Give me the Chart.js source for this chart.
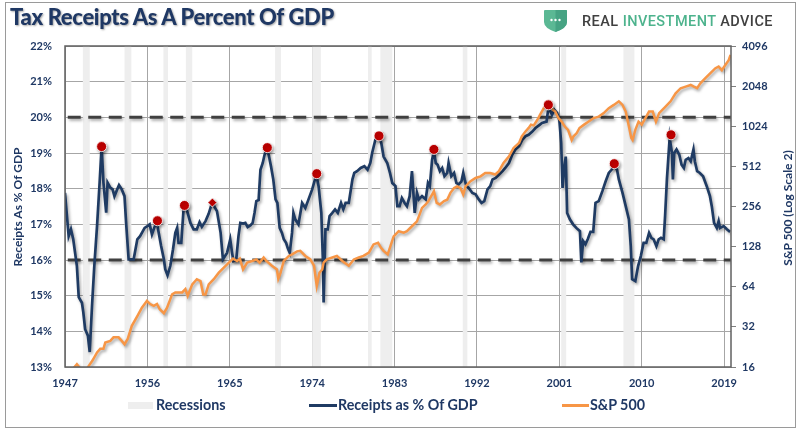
<!DOCTYPE html>
<html>
<head>
<meta charset="utf-8">
<script src="https://cdn.jsdelivr.net/npm/chart.js@4.4.1/dist/chart.umd.min.js"></script>
<style>
  html, body { margin:0; padding:0; background:#fff; }
  #wrap { position:relative; width:800px; height:432px; overflow:hidden; background:#fff; }
  #c { position:absolute; left:0; top:0; }
  .abs { position:absolute; white-space:nowrap; }
  #frame { left:5px; top:2px; width:789px; height:424px; border:1px solid #9a9a9a; pointer-events:none; }
  #title { left:10px; top:6px; font-family:Lato, sans-serif; font-weight:900; font-size:22px; line-height:22px; color:#1F3864; letter-spacing:-0.35px; text-shadow:1px 1px 2px rgba(0,0,0,0.35); }
  #logoText { left:582px; top:13px; font-family:Roboto, sans-serif; font-weight:500; font-size:14.5px; line-height:17px; letter-spacing:0.45px; color:#404040; }
  #logoText .g { color:#4DB38D; }
  #shield { left:543px; top:9px; }
  .axtitle { font-family:Lato, sans-serif; font-weight:700; font-size:12px; color:#1F3864; transform:translate(-50%,-50%) rotate(-90deg); }
  #ytitle { left:17px; top:207px; }
  #y2title { left:787px; top:208px; }
  .legtxt { font-family:Lato, sans-serif; font-weight:700; font-size:14.3px; line-height:16px; color:#1F3864; top:397px; }
</style>
</head>
<body>
<div id="wrap">
  <canvas id="c" width="800" height="432" style="width:800px;height:432px"></canvas>
  <div id="frame" class="abs"></div>
  <div id="title" class="abs">Tax Receipts As A Percent Of GDP</div>
  <svg id="shield" class="abs" width="25" height="24" viewBox="0 0 25 24">
    <path d="M1 2 Q1 1 2 1 L23 1 Q24 1 24 2 L24 13 Q24 19 12.5 23 Q1 19 1 13 Z" fill="#5BB894"/>
    <path d="M12.5 1 L23 1 Q24 1 24 2 L24 13 Q24 19 12.5 23 Z" fill="#46A383"/>
    <circle cx="8.5" cy="11" r="1.2" fill="#fff"/>
    <circle cx="12.5" cy="11" r="1.2" fill="#fff"/>
    <circle cx="16.5" cy="11" r="1.2" fill="#fff"/>
  </svg>
  <div id="logoText" class="abs">REAL <span class="g">INVESTMENT</span> ADVICE</div>
  <div id="ytitle" class="abs axtitle">Receipts As % Of GDP</div>
  <div id="y2title" class="abs axtitle">S&amp;P 500 (Log Scale 2)</div>
  <div class="abs" style="left:128px;top:402px;width:25px;height:7px;background:#EEEEEE"></div>
  <div class="abs legtxt" style="left:156px">Recessions</div>
  <div class="abs" style="left:309px;top:404px;width:28px;height:3px;background:#1F3B63"></div>
  <div class="abs legtxt" style="left:338px">Receipts as % Of GDP</div>
  <div class="abs" style="left:562px;top:404px;width:27px;height:3px;background:#F79646"></div>
  <div class="abs legtxt" style="left:590px">S&amp;P 500</div>
</div>
<script>
// ---------- data ----------
const xTickLabels = [1947, 1956, 1965, 1974, 1983, 1992, 2001, 2010, 2019];
const spxTicks = [16, 32, 64, 128, 256, 512, 1024, 2048, 4096];
const guideLevels = [20, 16];

const receiptYears = [1947.0,1947.4,1947.65,1947.9,1948.3,1948.5,1948.85,1949.0,1949.2,1949.5,1949.7,1949.95,1950.2,1950.5,1950.8,1951.0,1951.2,1951.5,1951.65,1951.95,1952.2,1952.4,1952.7,1952.9,1953.2,1953.5,1953.7,1953.95,1954.5,1954.9,1955.2,1955.7,1956.0,1956.25,1956.5,1956.75,1957.0,1957.2,1957.5,1957.8,1957.95,1958.2,1958.5,1958.8,1959.05,1959.25,1959.4,1959.7,1959.95,1960.15,1960.4,1960.7,1961.05,1961.4,1961.7,1961.95,1962.35,1962.7,1962.95,1963.15,1963.3,1963.6,1964.0,1964.25,1964.7,1965.05,1965.25,1965.4,1965.7,1965.95,1966.15,1966.45,1966.7,1966.95,1967.25,1967.5,1967.7,1967.9,1968.15,1968.35,1968.6,1968.8,1969.0,1969.25,1969.5,1969.75,1970.0,1970.2,1970.45,1970.7,1970.9,1971.15,1971.35,1971.55,1971.8,1971.95,1972.15,1972.5,1972.9,1973.25,1973.6,1974.0,1974.45,1974.7,1975.0,1975.2,1975.25,1975.45,1975.7,1975.9,1976.2,1976.5,1976.8,1977.15,1977.4,1977.65,1978.0,1978.4,1978.6,1978.9,1979.3,1979.7,1980.05,1980.35,1980.55,1980.9,1981.3,1981.55,1981.8,1982.2,1982.5,1982.75,1983.1,1983.3,1983.55,1983.8,1984.1,1984.35,1984.65,1984.9,1985.2,1985.45,1985.65,1986.0,1986.4,1986.65,1986.85,1987.1,1987.3,1987.5,1987.7,1987.95,1988.2,1988.45,1988.75,1988.9,1989.2,1989.5,1989.75,1990.0,1990.3,1990.5,1990.65,1990.85,1991.1,1991.5,1991.85,1992.2,1992.5,1992.8,1993.15,1993.45,1993.7,1994.05,1994.4,1994.8,1995.1,1995.5,1995.85,1996.2,1996.6,1996.95,1997.3,1997.65,1998.05,1998.4,1998.85,1999.1,1999.6,1999.75,1999.95,2000.2,2000.45,2000.75,2001.0,2001.2,2001.35,2001.55,2001.7,2001.85,2002.15,2002.5,2002.85,2003.25,2003.4,2003.6,2003.85,2004.1,2004.4,2004.7,2004.95,2005.3,2005.7,2006.05,2006.4,2006.7,2007.0,2007.3,2007.5,2007.9,2008.25,2008.6,2008.8,2008.95,2009.3,2009.6,2009.9,2010.2,2010.5,2010.8,2011.05,2011.3,2011.6,2011.85,2012.1,2012.4,2012.55,2012.75,2013.05,2013.3,2013.4,2013.55,2013.8,2014.1,2014.35,2014.6,2014.8,2015.1,2015.35,2015.65,2015.8,2016.05,2016.35,2016.7,2017.1,2017.45,2017.65,2017.9,2018.2,2018.4,2018.55,2018.95,2019.3,2019.65];
const receiptPct = [17.88,16.67,16.86,16.58,15.83,14.96,14.8,14.53,14.06,13.88,13.42,14.71,15.83,16.95,18.25,19.19,18.17,17.33,18.17,18.03,17.98,17.79,17.98,18.1,17.98,17.79,16.95,16.02,16.02,16.58,16.67,16.9,16.95,17.0,16.72,16.9,17.09,16.81,16.39,16.02,15.74,15.57,15.83,16.3,16.76,16.9,16.48,16.48,17.42,17.51,17.32,17.04,16.86,16.86,17.06,16.93,17.09,17.3,17.51,17.62,17.5,17.37,16.76,16.02,16.2,16.58,16.2,15.97,16.0,16.67,17.04,17.02,17.04,16.92,16.97,17.04,17.32,17.65,17.68,18.53,18.72,18.95,19.1,18.95,18.63,18.26,17.7,17.6,16.9,16.76,16.58,16.48,16.32,16.2,16.76,17.32,17.14,17.0,17.6,17.46,17.7,17.98,18.39,18.07,17.32,15.74,14.81,16.86,16.86,17.23,17.32,17.42,17.32,17.6,17.42,17.6,17.6,18.26,18.44,18.49,18.58,18.63,18.53,18.72,19.0,19.37,19.48,19.28,18.9,18.72,18.44,18.16,18.07,17.51,17.51,17.74,17.6,17.51,17.79,18.49,17.32,17.88,17.7,17.79,17.7,18.16,18.07,18.81,19.05,18.72,18.67,18.49,18.58,18.35,18.44,18.72,18.35,18.44,18.16,18.12,18.2,18.44,18.26,18.07,18.02,17.88,17.84,17.7,17.6,17.65,17.98,18.07,18.26,18.3,18.39,18.49,18.58,18.72,18.95,19.1,19.19,19.37,19.47,19.51,19.6,19.7,19.79,19.84,19.88,20.16,20.21,20.07,20.21,20.12,19.93,19.28,18.02,18.63,18.9,17.32,17.14,17.0,16.9,16.81,15.93,16.53,16.44,16.58,16.79,16.79,17.6,17.65,17.93,18.2,18.44,18.53,18.63,18.53,18.26,17.88,17.51,17.14,16.39,15.46,15.41,15.83,16.11,16.48,16.48,16.76,16.62,16.58,16.39,16.58,16.62,16.58,17.23,18.26,19.42,19.0,18.26,19.0,19.1,18.95,18.67,18.58,18.81,18.86,18.77,19.1,18.77,18.49,18.44,18.35,18.07,17.79,17.51,17.04,16.9,17.09,16.9,16.95,16.86,16.79];

const spxYears = [1947.0,1947.8,1948.3,1948.6,1949.2,1949.6,1950.0,1950.5,1950.85,1951.2,1951.4,1951.95,1952.3,1952.85,1953.2,1953.5,1953.85,1954.3,1954.9,1955.4,1955.95,1956.3,1956.7,1957.05,1957.35,1957.8,1958.15,1958.7,1959.05,1959.4,1959.8,1960.15,1960.4,1960.9,1961.4,1961.8,1962.1,1962.35,1962.7,1963.25,1963.8,1964.35,1964.9,1965.35,1965.8,1966.1,1966.45,1966.9,1967.45,1967.9,1968.25,1968.7,1969.0,1969.6,1970.15,1970.3,1970.55,1970.9,1971.45,1971.8,1972.35,1972.7,1973.25,1973.8,1974.2,1974.5,1974.8,1975.1,1975.25,1975.6,1976.2,1976.7,1977.3,1978.0,1978.55,1979.1,1979.6,1980.2,1980.7,1981.2,1981.5,1981.8,1982.25,1982.55,1982.9,1983.45,1984.0,1984.35,1984.9,1985.45,1986.0,1986.4,1986.7,1987.3,1987.6,1987.95,1988.4,1988.75,1989.1,1989.5,1989.85,1990.2,1990.5,1990.75,1991.3,1991.85,1992.4,1992.9,1993.45,1994.0,1994.4,1994.9,1995.5,1996.0,1996.6,1996.9,1997.3,1997.65,1997.9,1998.2,1998.6,1998.9,1999.3,1999.65,2000.0,2000.3,2000.55,2000.9,2001.25,2001.6,2001.95,2002.35,2002.55,2002.9,2003.2,2003.7,2004.2,2004.75,2005.3,2005.85,2006.4,2006.95,2007.5,2007.9,2008.25,2008.6,2008.85,2009.0,2009.3,2009.65,2010.0,2010.4,2010.8,2011.2,2011.55,2011.9,2012.25,2012.6,2013.15,2013.7,2014.25,2014.8,2015.35,2015.7,2016.05,2016.4,2016.95,2017.5,2018.05,2018.4,2018.75,2019.15,2019.5,2019.7];
const spxValues = [15.2,15.3,16.8,15.8,14.8,16.3,17.9,20.6,21.9,21.9,24.4,25.1,26.7,26.7,25.1,23.7,26.0,32.6,38.6,44.6,50.2,47.5,46,47.5,43.4,40.5,44.6,56.1,58.0,58.0,58.0,61.4,54.6,66.7,72.9,70.6,56.1,56.1,66.7,72.9,81.6,89.1,97.2,104,99.9,104,86.3,97.2,99.9,102.6,97.2,106,99.9,92,86.3,73.5,81.6,99.9,109,112,118,119,109,102.6,92,64.8,81.6,86.3,97.2,102.6,106,109,99.9,92,102.6,106,109,115.5,133,137,126,119,112,129,153,167,163,167,182,198,250,265,281,333,272,265,281,288,324,352,362,352,315,362,396,419,431,457,457,445,471,544,610,704,767,861,936,994,1053,1040,1145,1251,1400,1530,1480,1360,1320,1180,1110,1018,962,808,861,911,994,1053,1110,1180,1210,1285,1400,1480,1575,1480,1320,1018,838,808,962,1110,1053,1180,1320,1320,1110,1285,1360,1440,1575,1810,1975,2030,2090,2030,1975,2150,2350,2560,2790,2870,2700,2960,3210,3510];

const recessionStart = [1948.95, 1953.5, 1957.75, 1960.2, 1969.95, 1974.0, 1980.1, 1981.45, 1990.45, 2001.2, 2008.0];
const recessionEnd   = [1949.7, 1954.25, 1958.25, 1960.9, 1970.6, 1974.95, 1980.5, 1982.75, 1990.95, 2001.75, 2009.2];

const peakYears = [1951.0, 1957.1, 1960.05, 1963.1, 1969.1, 1974.5, 1981.3, 1987.3, 1999.8, 2007.0, 2013.2];
const peakPct   = [19.18, 17.1, 17.53, 17.61, 19.15, 18.42, 19.48, 19.1, 20.35, 18.7, 19.51];
const peakShapes = ['circle','circle','circle','rectRot','circle','circle','circle','circle','circle','circle','circle'];

const guideStart = 1947.3, guideEnd = 2019.75;

// ---------- styles ----------
const NAVY = '#1F3864';
const tickFont = { family: 'Lato, sans-serif', weight: 'bold', size: 11 };

const recessionPlugin = {
  id: 'recessions',
  beforeDatasetsDraw(chart) {
    const { ctx, chartArea, scales } = chart;
    ctx.save();
    ctx.fillStyle = '#EEEEEE';
    recessionStart.forEach((s, i) => {
      const x0 = scales.x.getPixelForValue(s);
      const x1 = scales.x.getPixelForValue(recessionEnd[i]);
      ctx.fillRect(x0, chartArea.top, x1 - x0, chartArea.bottom - chartArea.top);
    });
    ctx.restore();
  }
};
const shadowPlugin = {
  id: 'shadow',
  beforeDatasetDraw(chart) {
    const ctx = chart.ctx;
    ctx.save();
    ctx.shadowColor = 'rgba(0,0,0,0.35)';
    ctx.shadowBlur = 3;
    ctx.shadowOffsetX = 1.5;
    ctx.shadowOffsetY = 2;
  },
  afterDatasetDraw(chart) { chart.ctx.restore(); }
};
const framePlugin = {
  id: 'frame',
  afterDraw(chart) {
    const { ctx, chartArea: a } = chart;
    ctx.save();
    ctx.strokeStyle = '#606060';
    ctx.lineWidth = 1.5;
    ctx.strokeRect(a.left, a.top, a.right - a.left, a.bottom - a.top);
    ctx.restore();
  }
};

const guide = (lvl) => ({
  label: 'guide' + lvl,
  data: [{ x: guideStart, y: lvl }, { x: guideEnd, y: lvl }],
  yAxisID: 'y',
  borderColor: '#404040',
  borderWidth: 3,
  borderDash: [13, 7.5],
  pointRadius: 0,
  order: 3
});

new Chart(document.getElementById('c'), {
  type: 'line',
  data: {
    datasets: [
      {
        label: 'Peaks',
        data: peakYears.map((x, i) => ({ x, y: peakPct[i] })),
        yAxisID: 'y',
        showLine: false,
        pointStyle: peakShapes,
        pointRadius: peakShapes.map(s => s === 'rectRot' ? 4.5 : 5),
        backgroundColor: '#C00000',
        borderColor: '#ffffff',
        borderWidth: 0.8,
        order: 0
      },
      {
        label: 'S&P 500',
        data: spxYears.map((x, i) => ({ x, y: spxValues[i] })),
        yAxisID: 'y2',
        borderColor: '#F79646',
        borderWidth: 2.5,
        pointRadius: 0,
        order: 1
      },
      {
        label: 'Receipts as % Of GDP',
        data: receiptYears.map((x, i) => ({ x, y: receiptPct[i] })),
        yAxisID: 'y',
        borderColor: '#1F3B63',
        borderWidth: 2.7,
        pointRadius: 0,
        order: 2
      },
      ...guideLevels.map(guide)
    ]
  },
  options: {
    responsive: false,
    animation: false,
    layout: { padding: { top: 46, bottom: 35, left: 0, right: 0 } },
    plugins: { legend: { display: false }, tooltip: { enabled: false } },
    scales: {
      x: {
        type: 'linear',
        min: 1947, max: 2019.75,
        afterBuildTicks: s => { s.ticks = xTickLabels.map(v => ({ value: v })); },
        afterFit: s => { s.height = 30; },
        ticks: { autoSkip: false, maxRotation: 0, padding: 10, font: tickFont, color: NAVY, callback: v => String(v) },
        grid: { color: '#A6A6A6', lineWidth: 1, drawTicks: false },
        border: { display: false }
      },
      y: {
        type: 'linear', position: 'left',
        min: 13, max: 22,
        afterFit: s => { s.width = 65; },
        ticks: { stepSize: 1, padding: 13, font: tickFont, color: NAVY, callback: v => v + '%' },
        grid: { color: '#A6A6A6', lineWidth: 1, drawTicks: false },
        border: { display: false }
      },
      y2: {
        type: 'logarithmic', position: 'right',
        min: 16, max: 4096,
        afterBuildTicks: s => { s.ticks = spxTicks.map(v => ({ value: v })); },
        afterFit: s => { s.width = 69; },
        ticks: { autoSkip: false, padding: 6, font: tickFont, color: NAVY, callback: v => String(v) },
        grid: { drawOnChartArea: false, drawTicks: true, tickLength: 5, color: '#808080' },
        border: { display: false }
      }
    }
  },
  plugins: [recessionPlugin, shadowPlugin, framePlugin]
});
</script>
</body>
</html>
